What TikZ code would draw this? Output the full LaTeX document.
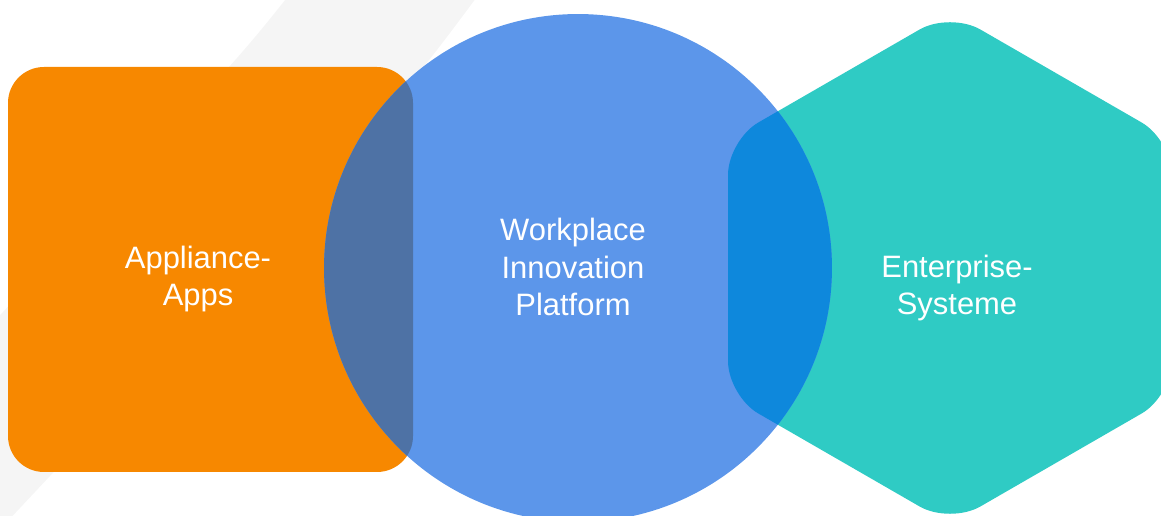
\documentclass[tikz,border=0pt]{standalone}
\usepackage{fontspec}
\setmainfont{Liberation Sans}

\begin{document}
\begin{tikzpicture}[x=0.02cm, y=-0.02cm]
			% Define colors
			\definecolor{bandgray}{RGB}{245,245,245}
			\definecolor{appsorange}{RGB}{247,136,0}
			\definecolor{platblue}{RGB}{92,150,234}
			\definecolor{systeal}{RGB}{47,203,196}
			\definecolor{mixleft}{RGB}{78,114,165}
			\definecolor{mixright}{RGB}{14,136,220}

			% Styles
			\tikzset{
				label/.style={text=white, align=center, inner sep=0pt,
					font=\fontsize{17.6}{21.6}\selectfont},
				appsshape/.style={rounded corners=0.72cm},
				sysshape/.style={rounded corners=0.7cm}
			}

			% Canvas
			\useasboundingbox (0,0) rectangle (1161,516);
			\clip (0,0) rectangle (1161,516);

			% Background band
			\fill[bandgray] (293,-10) .. controls (240,57) .. (-10,326)
				-- (-10,540) .. controls (393,110) .. (482,-10) -- cycle;

			% Draw shapes
			\fill[appsorange, appsshape] (8,67) rectangle (413,472);
			\fill[systeal, sysshape] (950,12) -- (728,140) -- (728,396)
				-- (950,524) -- (1172,396) -- (1172,140) -- cycle;
			\fill[platblue] (578,268) circle[radius=5.08cm];

			% Draw overlaps
			\begin{scope}
				\clip (578,268) circle[radius=5.08cm];
				\fill[mixleft, appsshape] (8,67) rectangle (413,472);
				\fill[mixright, sysshape] (950,12) -- (728,140) -- (728,396)
					-- (950,524) -- (1172,396) -- (1172,140) -- cycle;
			\end{scope}

			% Add labels
			\node[label] (apps) at (198,279) {Appliance-\\Apps};
			\node[label] (platform) at (573,267) {Workplace\\Innovation\\Platform};
			\node[label] (systems) at (957,288) {Enterprise-\\Systeme};
\end{tikzpicture}
\end{document}
